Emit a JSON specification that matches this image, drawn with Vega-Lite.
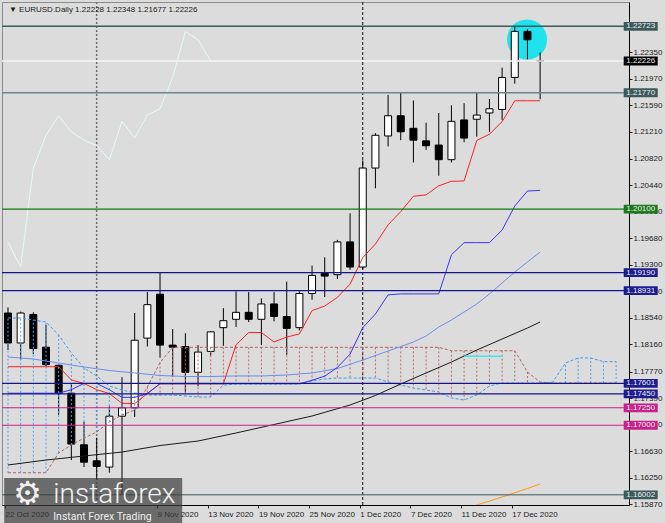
{
"$schema": "https://vega.github.io/schema/vega-lite/v6.json",
"width": 627, "height": 503,
"autosize": {"type": "none"},
"padding": {"left": 2, "top": 2, "right": 36, "bottom": 18},
"background": "#dcdcdc",
"config": {"view": {"stroke": "#8c8c8c", "strokeWidth": 1}, "font": "Liberation Sans", "axis": {"labelOverlap": false}, "axisY": {"labelOverlap": false}},
"datasets": {
"bars": [
{"i":0,"date":"2020-10-22","o":1.1861,"h":1.1869,"l":1.1808,"c":1.1818,"tenkan":1.1784,"kijun":1.1746},
{"i":1,"date":"2020-10-23","o":1.1818,"h":1.1863,"l":1.1794,"c":1.1861,"tenkan":1.1784,"kijun":1.1746},
{"i":2,"date":"2020-10-26","o":1.1859,"h":1.1862,"l":1.1802,"c":1.1810,"tenkan":1.1784,"kijun":1.1746},
{"i":3,"date":"2020-10-27","o":1.1812,"h":1.1844,"l":1.1784,"c":1.1787,"tenkan":1.1784,"kijun":1.1746},
{"i":4,"date":"2020-10-28","o":1.1786,"h":1.1787,"l":1.1715,"c":1.1746,"tenkan":1.1784,"kijun":1.1746},
{"i":5,"date":"2020-10-29","o":1.1746,"h":1.1760,"l":1.1650,"c":1.1673,"tenkan":1.1765,"kijun":1.1751},
{"i":6,"date":"2020-10-30","o":1.1672,"h":1.1705,"l":1.1640,"c":1.1647,"tenkan":1.1760,"kijun":1.1760},
{"i":7,"date":"2020-11-02","o":1.1649,"h":1.1682,"l":1.1622,"c":1.1641,"tenkan":1.1751,"kijun":1.1760},
{"i":8,"date":"2020-11-03","o":1.1640,"h":1.1727,"l":1.1632,"c":1.1713,"tenkan":1.17455,"kijun":1.1751},
{"i":9,"date":"2020-11-04","o":1.1713,"h":1.1769,"l":1.1600,"c":1.1725,"tenkan":1.17315,"kijun":1.1740},
{"i":10,"date":"2020-11-05","o":1.1725,"h":1.1861,"l":1.1712,"c":1.1822,"tenkan":1.1731,"kijun":1.1740},
{"i":11,"date":"2020-11-06","o":1.1825,"h":1.1891,"l":1.1813,"c":1.1873,"tenkan":1.17455,"kijun":1.17455},
{"i":12,"date":"2020-11-09","o":1.1888,"h":1.1919,"l":1.1797,"c":1.1815,"tenkan":1.17595,"kijun":1.17595},
{"i":13,"date":"2020-11-10","o":1.1815,"h":1.1838,"l":1.1770,"c":1.1812,"tenkan":1.17595,"kijun":1.17595},
{"i":14,"date":"2020-11-11","o":1.1813,"h":1.1832,"l":1.1747,"c":1.1776,"tenkan":1.17595,"kijun":1.17595},
{"i":15,"date":"2020-11-12","o":1.1776,"h":1.1815,"l":1.1756,"c":1.1805,"tenkan":1.17595,"kijun":1.17595},
{"i":16,"date":"2020-11-13","o":1.1806,"h":1.1835,"l":1.1800,"c":1.1834,"tenkan":1.17595,"kijun":1.17595},
{"i":17,"date":"2020-11-16","o":1.1840,"h":1.1868,"l":1.1814,"c":1.1850,"tenkan":1.17595,"kijun":1.17595},
{"i":18,"date":"2020-11-17","o":1.1852,"h":1.1892,"l":1.1841,"c":1.1862,"tenkan":1.18155,"kijun":1.17595},
{"i":19,"date":"2020-11-18","o":1.1862,"h":1.1891,"l":1.1848,"c":1.1852,"tenkan":1.1833,"kijun":1.17595},
{"i":20,"date":"2020-11-19","o":1.1852,"h":1.1882,"l":1.1815,"c":1.1874,"tenkan":1.1833,"kijun":1.17595},
{"i":21,"date":"2020-11-20","o":1.1874,"h":1.1891,"l":1.1849,"c":1.1856,"tenkan":1.18195,"kijun":1.17595},
{"i":22,"date":"2020-11-23","o":1.1856,"h":1.1906,"l":1.1801,"c":1.1839,"tenkan":1.18265,"kijun":1.17595},
{"i":23,"date":"2020-11-24","o":1.1840,"h":1.1892,"l":1.1836,"c":1.1889,"tenkan":1.1831,"kijun":1.17595},
{"i":24,"date":"2020-11-25","o":1.1889,"h":1.1929,"l":1.1880,"c":1.1915,"tenkan":1.18645,"kijun":1.17645},
{"i":25,"date":"2020-11-26","o":1.1918,"h":1.1941,"l":1.1884,"c":1.1914,"tenkan":1.1871,"kijun":1.17705},
{"i":26,"date":"2020-11-27","o":1.1916,"h":1.1966,"l":1.1910,"c":1.1963,"tenkan":1.18835,"kijun":1.1783},
{"i":27,"date":"2020-11-30","o":1.1963,"h":1.2004,"l":1.1923,"c":1.1927,"tenkan":1.19025,"kijun":1.1802},
{"i":28,"date":"2020-12-01","o":1.1927,"h":1.2080,"l":1.1924,"c":1.2069,"tenkan":1.19405,"kijun":1.1840},
{"i":29,"date":"2020-12-02","o":1.2069,"h":1.2119,"l":1.2040,"c":1.2116,"tenkan":1.1960,"kijun":1.18595},
{"i":30,"date":"2020-12-03","o":1.2115,"h":1.2174,"l":1.2100,"c":1.2144,"tenkan":1.19875,"kijun":1.1887},
{"i":31,"date":"2020-12-04","o":1.2144,"h":1.2177,"l":1.2109,"c":1.2121,"tenkan":1.20065,"kijun":1.18885},
{"i":32,"date":"2020-12-07","o":1.2126,"h":1.2166,"l":1.2077,"c":1.2109,"tenkan":1.20285,"kijun":1.18885},
{"i":33,"date":"2020-12-08","o":1.2108,"h":1.2134,"l":1.2095,"c":1.2101,"tenkan":1.20305,"kijun":1.18885},
{"i":34,"date":"2020-12-09","o":1.2102,"h":1.2148,"l":1.2058,"c":1.2081,"tenkan":1.20435,"kijun":1.18885},
{"i":35,"date":"2020-12-10","o":1.2081,"h":1.2159,"l":1.2077,"c":1.2136,"tenkan":1.2050,"kijun":1.19445},
{"i":36,"date":"2020-12-11","o":1.2138,"h":1.2162,"l":1.2106,"c":1.2112,"tenkan":1.20505,"kijun":1.1962},
{"i":37,"date":"2020-12-14","o":1.2139,"h":1.2177,"l":1.2114,"c":1.2145,"tenkan":1.21085,"kijun":1.1962},
{"i":38,"date":"2020-12-15","o":1.2148,"h":1.2168,"l":1.2121,"c":1.2154,"tenkan":1.21175,"kijun":1.1962},
{"i":39,"date":"2020-12-16","o":1.2153,"h":1.2213,"l":1.2138,"c":1.2199,"tenkan":1.21355,"kijun":1.1980},
{"i":40,"date":"2020-12-17","o":1.2199,"h":1.2273,"l":1.2190,"c":1.2265,"tenkan":1.21655,"kijun":1.20145},
{"i":41,"date":"2020-12-18","o":1.2265,"h":1.2268,"l":1.2225,"c":1.2253,"tenkan":1.21655,"kijun":1.2036},
{"i":42,"date":"2020-12-21","o":1.22228,"h":1.22348,"l":1.21677,"c":1.22226,"tenkan":1.21655,"kijun":1.2037}
],
"chikou": [
{"i":0,"v":1.1963},{"i":1,"v":1.1927},{"i":2,"v":1.2069},{"i":3,"v":1.2116},{"i":4,"v":1.2144},{"i":5,"v":1.2121},{"i":6,"v":1.2109},{"i":7,"v":1.2101},{"i":8,"v":1.2081},{"i":9,"v":1.2136},{"i":10,"v":1.2112},{"i":11,"v":1.2145},{"i":12,"v":1.2154},{"i":13,"v":1.2199},{"i":14,"v":1.2265},{"i":15,"v":1.2253},{"i":16,"v":1.22226}
],
"cloud": [
{"i":0,"a":1.16319,"b":1.18539},{"i":1,"a":1.16319,"b":1.18539},{"i":2,"a":1.16319,"b":1.1851},{"i":3,"a":1.16319,"b":1.18481},
{"i":4,"a":1.16602,"b":1.18295},{"i":5,"a":1.16717,"b":1.18036},{"i":6,"a":1.16817,"b":1.17821},{"i":7,"a":1.16903,"b":1.17706},
{"i":8,"a":1.17047,"b":1.17563},{"i":9,"a":1.17147,"b":1.17506},{"i":10,"a":1.17219,"b":1.17463},{"i":11,"a":1.1755,"b":1.17434},
{"i":12,"a":1.179,"b":1.17434},{"i":13,"a":1.18118,"b":1.17434},{"i":14,"a":1.18118,"b":1.1742},{"i":15,"a":1.18118,"b":1.17405},
{"i":16,"a":1.18118,"b":1.17405},{"i":17,"a":1.18118,"b":1.17577},{"i":18,"a":1.18118,"b":1.17592},{"i":19,"a":1.18118,"b":1.17592},
{"i":20,"a":1.18118,"b":1.17592},{"i":21,"a":1.18118,"b":1.17592},{"i":22,"a":1.18118,"b":1.17592},{"i":23,"a":1.18118,"b":1.17592},
{"i":24,"a":1.18118,"b":1.17635},{"i":25,"a":1.18118,"b":1.17663},{"i":26,"a":1.18118,"b":1.17678},{"i":27,"a":1.18118,"b":1.17678},
{"i":28,"a":1.18118,"b":1.17678},{"i":29,"a":1.18118,"b":1.17678},{"i":30,"a":1.18118,"b":1.1762},{"i":31,"a":1.18118,"b":1.17577},
{"i":32,"a":1.18118,"b":1.17534},{"i":33,"a":1.18118,"b":1.17506},{"i":34,"a":1.18118,"b":1.17477},{"i":35,"a":1.18069,"b":1.17391},
{"i":36,"a":1.18069,"b":1.17362},{"i":37,"a":1.18069,"b":1.17434},{"i":38,"a":1.18069,"b":1.17563},{"i":39,"a":1.18069,"b":1.17606},
{"i":40,"a":1.18069,"b":1.17606},{"i":41,"a":1.17764,"b":1.17606},{"i":42,"a":1.1762,"b":1.17606},{"i":43,"a":1.17606,"b":1.1762},
{"i":44,"a":1.17606,"b":1.17893},{"i":45,"a":1.17606,"b":1.17965},{"i":46,"a":1.17606,"b":1.17965},{"i":47,"a":1.17606,"b":1.17912},
{"i":48,"a":1.17606,"b":1.17912}
],
"ma": [
{"i":0,"series":"fast","v":1.17979},{"i":2,"series":"fast","v":1.1795},{"i":4,"series":"fast","v":1.17893},{"i":6,"series":"fast","v":1.17836},
{"i":8,"series":"fast","v":1.17785},{"i":10,"series":"fast","v":1.1775},{"i":12,"series":"fast","v":1.17714},{"i":14,"series":"fast","v":1.17699},
{"i":16,"series":"fast","v":1.17699},{"i":18,"series":"fast","v":1.17707},{"i":20,"series":"fast","v":1.17707},{"i":22,"series":"fast","v":1.17721},
{"i":24,"series":"fast","v":1.1775},{"i":26,"series":"fast","v":1.17814},{"i":28,"series":"fast","v":1.17936},{"i":30,"series":"fast","v":1.18065},
{"i":32,"series":"fast","v":1.18194},{"i":33,"series":"fast","v":1.1828},{"i":34,"series":"fast","v":1.18409},{"i":35,"series":"fast","v":1.1851},
{"i":36,"series":"fast","v":1.18625},{"i":37,"series":"fast","v":1.18739},{"i":38,"series":"fast","v":1.18883},{"i":39,"series":"fast","v":1.19041},
{"i":40,"series":"fast","v":1.19198},{"i":41,"series":"fast","v":1.19342},{"i":42,"series":"fast","v":1.19485},
{"i":0,"series":"slow","v":1.1643},{"i":3,"series":"slow","v":1.16501},{"i":6,"series":"slow","v":1.16559},{"i":9,"series":"slow","v":1.16616},
{"i":12,"series":"slow","v":1.16709},{"i":15,"series":"slow","v":1.16774},{"i":18,"series":"slow","v":1.16889},{"i":21,"series":"slow","v":1.17011},
{"i":24,"series":"slow","v":1.17133},{"i":27,"series":"slow","v":1.1729},{"i":29,"series":"slow","v":1.17427},{"i":31,"series":"slow","v":1.17592},
{"i":33,"series":"slow","v":1.1775},{"i":35,"series":"slow","v":1.17907},{"i":37,"series":"slow","v":1.18079},{"i":39,"series":"slow","v":1.18237},
{"i":41,"series":"slow","v":1.18395},{"i":42,"series":"slow","v":1.18481},
{"i":36,"series":"long","v":1.15799},{"i":37,"series":"long","v":1.15856},{"i":38,"series":"long","v":1.15913},{"i":39,"series":"long","v":1.15971},
{"i":40,"series":"long","v":1.16032},{"i":41,"series":"long","v":1.16093},{"i":42,"series":"long","v":1.16157}
],
"levels": [
{"price":1.22723,"kind":"high"},{"price":1.22226,"kind":"current"},{"price":1.2177,"kind":"pivot"},{"price":1.201,"kind":"round"},
{"price":1.1919,"kind":"range"},{"price":1.18931,"kind":"range"},{"price":1.17601,"kind":"range"},{"price":1.1745,"kind":"range"},
{"price":1.1725,"kind":"support"},{"price":1.17,"kind":"support"},{"price":1.16002,"kind":"low"}
],
"separators": [{"i":7},{"i":28}],
"marker": [{"i":36,"v":1.1799},{"i":39,"v":1.1799}]
},
"layer": [
{"data": {"name": "separators"}, "mark": {"type": "rule"},
 "encoding": {
  "x": {"field": "i", "type": "quantitative", "scale": {"domain": [-0.078, 48.621], "nice": false, "zero": false}},
  "stroke": {"condition": {"test": "datum.i < 10", "value": "#6e6e6e"}, "value": "#111111"},
  "strokeDash": {"condition": {"test": "datum.i < 10", "value": [2, 2]}, "value": [3, 2]},
  "strokeWidth": {"condition": {"test": "datum.i < 10", "value": 1.5}, "value": 1}}},
{"data": {"values": [{}]}, "mark": {"type": "point", "shape": "circle", "filled": true, "opacity": 1, "size": 1600, "color": "#1fe3ec", "strokeWidth": 0},
 "encoding": {
  "x": {"datum": 40.97, "type": "quantitative", "scale": {"domain": [-0.078, 48.621], "nice": false, "zero": false}},
  "y": {"datum": 1.22534, "type": "quantitative", "scale": {"domain": [1.15856, 1.23072], "nice": false, "zero": false},
   "axis": {"orient": "right", "format": ".5f", "values": [1.2235,1.2197,1.2159,1.2121,1.2082,1.2044,1.2006,1.1968,1.193,1.1892,1.1854,1.1816,1.1777,1.1739,1.1701,1.1663,1.1625,1.1587], "title": null, "grid": false, "domainColor": "#000000", "tickColor": "#222222", "tickSize": 3, "labelPadding": 1, "labelFont": "Liberation Sans", "labelFontSize": 8, "labelColor": "#1a1a1a", "labelAlign": "left", "labelBaseline": "middle", "labelFlush": false, "labelOverlap": false, "labelBound": false}}}},
{"data": {"name": "bars"}, "mark": {"type": "rule", "color": "#000000", "strokeWidth": 1, "clip": true},
 "encoding": {
  "x": {"field": "i", "type": "quantitative", "scale": {"domain": [-0.078, 48.621], "nice": false, "zero": false},
   "axis": {"values": [0, 12, 16, 20, 24, 28, 32, 36, 40],
    "labelExpr": "['22 Oct 2020','28 Oct 2020','3 Nov 2020','9 Nov 2020','13 Nov 2020','19 Nov 2020','25 Nov 2020','1 Dec 2020','7 Dec 2020','11 Dec 2020','17 Dec 2020'][datum.value/4]",
    "title": null, "grid": false, "domainColor": "#000000", "tickColor": "#222222", "tickSize": 3, "tickOffset": -3,
    "labelAlign": "left", "labelBaseline": "top", "labelPadding": 2, "labelFont": "Liberation Sans", "labelFontSize": 8,
    "labelColor": "#1a1a1a", "labelFlush": false, "labelOverlap": false, "labelBound": false}},
  "y": {"field": "l", "type": "quantitative", "scale": {"domain": [1.15856, 1.23072], "nice": false, "zero": false},
   "axis": {"orient": "right", "format": ".5f", "values": [1.2235,1.2197,1.2159,1.2121,1.2082,1.2044,1.2006,1.1968,1.193,1.1892,1.1854,1.1816,1.1777,1.1739,1.1701,1.1663,1.1625,1.1587], "title": null, "grid": false, "domainColor": "#000000", "tickColor": "#222222", "tickSize": 3, "labelPadding": 1, "labelFont": "Liberation Sans", "labelFontSize": 8, "labelColor": "#1a1a1a", "labelAlign": "left", "labelBaseline": "middle", "labelFlush": false, "labelOverlap": false, "labelBound": false}},
  "y2": {"field": "h"}}},
{"data": {"name": "bars"}, "mark": {"type": "bar", "width": 7, "stroke": "#000000", "strokeWidth": 1, "clip": true},
 "encoding": {
  "x": {"field": "i", "type": "quantitative", "scale": {"domain": [-0.078, 48.621], "nice": false, "zero": false}},
  "y": {"field": "o", "type": "quantitative", "scale": {"domain": [1.15856, 1.23072], "nice": false, "zero": false},
   "axis": {"orient": "right", "format": ".5f", "values": [1.2235,1.2197,1.2159,1.2121,1.2082,1.2044,1.2006,1.1968,1.193,1.1892,1.1854,1.1816,1.1777,1.1739,1.1701,1.1663,1.1625,1.1587], "title": null, "grid": false, "domainColor": "#000000", "tickColor": "#222222", "tickSize": 3, "labelPadding": 1, "labelFont": "Liberation Sans", "labelFontSize": 8, "labelColor": "#1a1a1a", "labelAlign": "left", "labelBaseline": "middle", "labelFlush": false, "labelOverlap": false, "labelBound": false}},
  "y2": {"field": "c"},
  "fill": {"condition": {"test": "datum.c >= datum.o", "value": "#ffffff"}, "value": "#000000"}}},
{"data": {"name": "cloud"}, "mark": {"type": "rule", "strokeDash": [2, 2], "strokeWidth": 1, "clip": true},
 "encoding": {
  "x": {"field": "i", "type": "quantitative", "scale": {"domain": [-0.078, 48.621], "nice": false, "zero": false}},
  "y": {"field": "a", "type": "quantitative", "scale": {"domain": [1.15856, 1.23072], "nice": false, "zero": false},
   "axis": {"orient": "right", "format": ".5f", "values": [1.2235,1.2197,1.2159,1.2121,1.2082,1.2044,1.2006,1.1968,1.193,1.1892,1.1854,1.1816,1.1777,1.1739,1.1701,1.1663,1.1625,1.1587], "title": null, "grid": false, "domainColor": "#000000", "tickColor": "#222222", "tickSize": 3, "labelPadding": 1, "labelFont": "Liberation Sans", "labelFontSize": 8, "labelColor": "#1a1a1a", "labelAlign": "left", "labelBaseline": "middle", "labelFlush": false, "labelOverlap": false, "labelBound": false}},
  "y2": {"field": "b"},
  "stroke": {"condition": {"test": "datum.a > datum.b", "value": "#b86a6a"}, "value": "#4aa3f5"}}},
{"data": {"name": "cloud"}, "mark": {"type": "line", "stroke": "#b46262", "strokeDash": [3, 2], "strokeWidth": 1, "clip": true},
 "encoding": {
  "x": {"field": "i", "type": "quantitative", "scale": {"domain": [-0.078, 48.621], "nice": false, "zero": false}},
  "y": {"field": "a", "type": "quantitative", "scale": {"domain": [1.15856, 1.23072], "nice": false, "zero": false},
   "axis": {"orient": "right", "format": ".5f", "values": [1.2235,1.2197,1.2159,1.2121,1.2082,1.2044,1.2006,1.1968,1.193,1.1892,1.1854,1.1816,1.1777,1.1739,1.1701,1.1663,1.1625,1.1587], "title": null, "grid": false, "domainColor": "#000000", "tickColor": "#222222", "tickSize": 3, "labelPadding": 1, "labelFont": "Liberation Sans", "labelFontSize": 8, "labelColor": "#1a1a1a", "labelAlign": "left", "labelBaseline": "middle", "labelFlush": false, "labelOverlap": false, "labelBound": false}}}},
{"data": {"name": "cloud"}, "mark": {"type": "line", "stroke": "#3d9cf2", "strokeDash": [3, 2], "strokeWidth": 1, "clip": true},
 "encoding": {
  "x": {"field": "i", "type": "quantitative", "scale": {"domain": [-0.078, 48.621], "nice": false, "zero": false}},
  "y": {"field": "b", "type": "quantitative", "scale": {"domain": [1.15856, 1.23072], "nice": false, "zero": false},
   "axis": {"orient": "right", "format": ".5f", "values": [1.2235,1.2197,1.2159,1.2121,1.2082,1.2044,1.2006,1.1968,1.193,1.1892,1.1854,1.1816,1.1777,1.1739,1.1701,1.1663,1.1625,1.1587], "title": null, "grid": false, "domainColor": "#000000", "tickColor": "#222222", "tickSize": 3, "labelPadding": 1, "labelFont": "Liberation Sans", "labelFontSize": 8, "labelColor": "#1a1a1a", "labelAlign": "left", "labelBaseline": "middle", "labelFlush": false, "labelOverlap": false, "labelBound": false}}}},
{"data": {"name": "ma"}, "mark": {"type": "line", "strokeWidth": 1, "clip": true},
 "encoding": {
  "x": {"field": "i", "type": "quantitative", "scale": {"domain": [-0.078, 48.621], "nice": false, "zero": false}},
  "y": {"field": "v", "type": "quantitative", "scale": {"domain": [1.15856, 1.23072], "nice": false, "zero": false},
   "axis": {"orient": "right", "format": ".5f", "values": [1.2235,1.2197,1.2159,1.2121,1.2082,1.2044,1.2006,1.1968,1.193,1.1892,1.1854,1.1816,1.1777,1.1739,1.1701,1.1663,1.1625,1.1587], "title": null, "grid": false, "domainColor": "#000000", "tickColor": "#222222", "tickSize": 3, "labelPadding": 1, "labelFont": "Liberation Sans", "labelFontSize": 8, "labelColor": "#1a1a1a", "labelAlign": "left", "labelBaseline": "middle", "labelFlush": false, "labelOverlap": false, "labelBound": false}},
  "color": {"field": "series", "type": "nominal", "scale": {"domain": ["fast", "slow", "long"], "range": ["#6b8fef", "#1a1a1a", "#ff9a1a"]}, "legend": null}}},
{"data": {"name": "chikou"}, "mark": {"type": "line", "stroke": "#e2fbfb", "strokeWidth": 1, "clip": true},
 "encoding": {
  "x": {"field": "i", "type": "quantitative", "scale": {"domain": [-0.078, 48.621], "nice": false, "zero": false}},
  "y": {"field": "v", "type": "quantitative", "scale": {"domain": [1.15856, 1.23072], "nice": false, "zero": false},
   "axis": {"orient": "right", "format": ".5f", "values": [1.2235,1.2197,1.2159,1.2121,1.2082,1.2044,1.2006,1.1968,1.193,1.1892,1.1854,1.1816,1.1777,1.1739,1.1701,1.1663,1.1625,1.1587], "title": null, "grid": false, "domainColor": "#000000", "tickColor": "#222222", "tickSize": 3, "labelPadding": 1, "labelFont": "Liberation Sans", "labelFontSize": 8, "labelColor": "#1a1a1a", "labelAlign": "left", "labelBaseline": "middle", "labelFlush": false, "labelOverlap": false, "labelBound": false}}}},
{"data": {"name": "bars"}, "mark": {"type": "line", "stroke": "#ff2020", "strokeWidth": 1, "clip": true},
 "encoding": {
  "x": {"field": "i", "type": "quantitative", "scale": {"domain": [-0.078, 48.621], "nice": false, "zero": false}},
  "y": {"field": "tenkan", "type": "quantitative", "scale": {"domain": [1.15856, 1.23072], "nice": false, "zero": false},
   "axis": {"orient": "right", "format": ".5f", "values": [1.2235,1.2197,1.2159,1.2121,1.2082,1.2044,1.2006,1.1968,1.193,1.1892,1.1854,1.1816,1.1777,1.1739,1.1701,1.1663,1.1625,1.1587], "title": null, "grid": false, "domainColor": "#000000", "tickColor": "#222222", "tickSize": 3, "labelPadding": 1, "labelFont": "Liberation Sans", "labelFontSize": 8, "labelColor": "#1a1a1a", "labelAlign": "left", "labelBaseline": "middle", "labelFlush": false, "labelOverlap": false, "labelBound": false}}}},
{"data": {"name": "bars"}, "mark": {"type": "line", "stroke": "#3535ff", "strokeWidth": 1, "clip": true},
 "encoding": {
  "x": {"field": "i", "type": "quantitative", "scale": {"domain": [-0.078, 48.621], "nice": false, "zero": false}},
  "y": {"field": "kijun", "type": "quantitative", "scale": {"domain": [1.15856, 1.23072], "nice": false, "zero": false},
   "axis": {"orient": "right", "format": ".5f", "values": [1.2235,1.2197,1.2159,1.2121,1.2082,1.2044,1.2006,1.1968,1.193,1.1892,1.1854,1.1816,1.1777,1.1739,1.1701,1.1663,1.1625,1.1587], "title": null, "grid": false, "domainColor": "#000000", "tickColor": "#222222", "tickSize": 3, "labelPadding": 1, "labelFont": "Liberation Sans", "labelFontSize": 8, "labelColor": "#1a1a1a", "labelAlign": "left", "labelBaseline": "middle", "labelFlush": false, "labelOverlap": false, "labelBound": false}}}},
{"data": {"name": "marker"}, "mark": {"type": "line", "stroke": "#3ee6f0", "strokeWidth": 1.5, "clip": true},
 "encoding": {
  "x": {"field": "i", "type": "quantitative", "scale": {"domain": [-0.078, 48.621], "nice": false, "zero": false}},
  "y": {"field": "v", "type": "quantitative", "scale": {"domain": [1.15856, 1.23072], "nice": false, "zero": false},
   "axis": {"orient": "right", "format": ".5f", "values": [1.2235,1.2197,1.2159,1.2121,1.2082,1.2044,1.2006,1.1968,1.193,1.1892,1.1854,1.1816,1.1777,1.1739,1.1701,1.1663,1.1625,1.1587], "title": null, "grid": false, "domainColor": "#000000", "tickColor": "#222222", "tickSize": 3, "labelPadding": 1, "labelFont": "Liberation Sans", "labelFontSize": 8, "labelColor": "#1a1a1a", "labelAlign": "left", "labelBaseline": "middle", "labelFlush": false, "labelOverlap": false, "labelBound": false}}}},
{"data": {"name": "levels"}, "mark": {"type": "rule"},
 "encoding": {
  "y": {"field": "price", "type": "quantitative", "scale": {"domain": [1.15856, 1.23072], "nice": false, "zero": false},
   "axis": {"orient": "right", "format": ".5f", "values": [1.2235,1.2197,1.2159,1.2121,1.2082,1.2044,1.2006,1.1968,1.193,1.1892,1.1854,1.1816,1.1777,1.1739,1.1701,1.1663,1.1625,1.1587], "title": null, "grid": false, "domainColor": "#000000", "tickColor": "#222222", "tickSize": 3, "labelPadding": 1, "labelFont": "Liberation Sans", "labelFontSize": 8, "labelColor": "#1a1a1a", "labelAlign": "left", "labelBaseline": "middle", "labelFlush": false, "labelOverlap": false, "labelBound": false}},
  "stroke": {"field": "kind", "type": "nominal", "scale": {"domain": ["high","current","pivot","round","range","support","low"], "range": ["#3b5b5b","#f4f4f4","#6a8585","#117a11","#14148c","#c8208a","#3b5b5b"]}, "legend": null},
  "strokeWidth": {"field": "kind", "type": "nominal", "scale": {"domain": ["high","current","pivot","round","range","support","low"], "range": [1.5,1,1.5,1.5,2,2,1.5]}, "legend": null}}},
{"data": {"name": "levels"}, "mark": {"type": "point", "shape": "M-1,-0.26H1V0.26H-1Z", "size": 1156, "filled": true, "opacity": 1, "strokeWidth": 0},
 "encoding": {
  "x": {"datum": 49.94, "type": "quantitative", "scale": {"domain": [-0.078, 48.621], "nice": false, "zero": false}},
  "y": {"field": "price", "type": "quantitative", "scale": {"domain": [1.15856, 1.23072], "nice": false, "zero": false},
   "axis": {"orient": "right", "format": ".5f", "values": [1.2235,1.2197,1.2159,1.2121,1.2082,1.2044,1.2006,1.1968,1.193,1.1892,1.1854,1.1816,1.1777,1.1739,1.1701,1.1663,1.1625,1.1587], "title": null, "grid": false, "domainColor": "#000000", "tickColor": "#222222", "tickSize": 3, "labelPadding": 1, "labelFont": "Liberation Sans", "labelFontSize": 8, "labelColor": "#1a1a1a", "labelAlign": "left", "labelBaseline": "middle", "labelFlush": false, "labelOverlap": false, "labelBound": false}},
  "fill": {"field": "kind", "type": "nominal", "scale": {"domain": ["high","current","pivot","round","range","support","low"], "range": ["#3b5b5b","#000000","#3b5b5b","#1c7a1c","#1c1c8f","#c8208a","#3b5b5b"]}, "legend": null}}},
{"data": {"name": "levels"}, "mark": {"type": "text", "font": "Liberation Sans", "fontSize": 8, "align": "center", "baseline": "middle", "color": "#eeeeee"},
 "encoding": {
  "x": {"datum": 49.94, "type": "quantitative", "scale": {"domain": [-0.078, 48.621], "nice": false, "zero": false}},
  "y": {"field": "price", "type": "quantitative", "scale": {"domain": [1.15856, 1.23072], "nice": false, "zero": false},
   "axis": {"orient": "right", "format": ".5f", "values": [1.2235,1.2197,1.2159,1.2121,1.2082,1.2044,1.2006,1.1968,1.193,1.1892,1.1854,1.1816,1.1777,1.1739,1.1701,1.1663,1.1625,1.1587], "title": null, "grid": false, "domainColor": "#000000", "tickColor": "#222222", "tickSize": 3, "labelPadding": 1, "labelFont": "Liberation Sans", "labelFontSize": 8, "labelColor": "#1a1a1a", "labelAlign": "left", "labelBaseline": "middle", "labelFlush": false, "labelOverlap": false, "labelBound": false}},
  "text": {"field": "price", "type": "quantitative", "format": ".5f"}}},
{"data": {"values": [{}]}, "mark": {"type": "text", "font": "Liberation Sans", "fontSize": 8, "align": "left", "baseline": "middle", "color": "#1a1a1a",
  "text": "▼ EURUSD.Daily 1.22228 1.22348 1.21677 1.22226"},
 "encoding": {
  "x": {"datum": 0.078, "type": "quantitative", "scale": {"domain": [-0.078, 48.621], "nice": false, "zero": false}},
  "y": {"datum": 1.22957, "type": "quantitative", "scale": {"domain": [1.15856, 1.23072], "nice": false, "zero": false},
   "axis": {"orient": "right", "format": ".5f", "values": [1.2235,1.2197,1.2159,1.2121,1.2082,1.2044,1.2006,1.1968,1.193,1.1892,1.1854,1.1816,1.1777,1.1739,1.1701,1.1663,1.1625,1.1587], "title": null, "grid": false, "domainColor": "#000000", "tickColor": "#222222", "tickSize": 3, "labelPadding": 1, "labelFont": "Liberation Sans", "labelFontSize": 8, "labelColor": "#1a1a1a", "labelAlign": "left", "labelBaseline": "middle", "labelFlush": false, "labelOverlap": false, "labelBound": false}}}},
{"data": {"values": [{}]}, "mark": {"type": "rect", "fill": "#3a3a3a", "opacity": 0.7},
 "encoding": {
  "x": {"datum": -0.3, "type": "quantitative", "scale": {"domain": [-0.078, 48.621], "nice": false, "zero": false}}, "x2": {"datum": 13.75},
  "y": {"datum": 1.16243, "type": "quantitative", "scale": {"domain": [1.15856, 1.23072], "nice": false, "zero": false},
   "axis": {"orient": "right", "format": ".5f", "values": [1.2235,1.2197,1.2159,1.2121,1.2082,1.2044,1.2006,1.1968,1.193,1.1892,1.1854,1.1816,1.1777,1.1739,1.1701,1.1663,1.1625,1.1587], "title": null, "grid": false, "domainColor": "#000000", "tickColor": "#222222", "tickSize": 3, "labelPadding": 1, "labelFont": "Liberation Sans", "labelFontSize": 8, "labelColor": "#1a1a1a", "labelAlign": "left", "labelBaseline": "middle", "labelFlush": false, "labelOverlap": false, "labelBound": false}},
  "y2": {"datum": 1.1555}}},
{"data": {"values": [{}]}, "mark": {"type": "text", "font": "DejaVu Sans", "fontSize": 32, "align": "center", "baseline": "middle", "color": "#f0f0f0", "text": "⚙"},
 "encoding": {
  "x": {"datum": 1.553, "type": "quantitative", "scale": {"domain": [-0.078, 48.621], "nice": false, "zero": false}},
  "y": {"datum": 1.16014, "type": "quantitative", "scale": {"domain": [1.15856, 1.23072], "nice": false, "zero": false},
   "axis": {"orient": "right", "format": ".5f", "values": [1.2235,1.2197,1.2159,1.2121,1.2082,1.2044,1.2006,1.1968,1.193,1.1892,1.1854,1.1816,1.1777,1.1739,1.1701,1.1663,1.1625,1.1587], "title": null, "grid": false, "domainColor": "#000000", "tickColor": "#222222", "tickSize": 3, "labelPadding": 1, "labelFont": "Liberation Sans", "labelFontSize": 8, "labelColor": "#1a1a1a", "labelAlign": "left", "labelBaseline": "middle", "labelFlush": false, "labelOverlap": false, "labelBound": false}}}},
{"data": {"values": [{}]}, "mark": {"type": "text", "font": "Roboto", "fontWeight": 300, "fontSize": 28, "align": "left", "baseline": "alphabetic", "color": "#f2f2f2", "text": "instaforex"},
 "encoding": {
  "x": {"datum": 3.573, "type": "quantitative", "scale": {"domain": [-0.078, 48.621], "nice": false, "zero": false}},
  "y": {"datum": 1.1588, "type": "quantitative", "scale": {"domain": [1.15856, 1.23072], "nice": false, "zero": false},
   "axis": {"orient": "right", "format": ".5f", "values": [1.2235,1.2197,1.2159,1.2121,1.2082,1.2044,1.2006,1.1968,1.193,1.1892,1.1854,1.1816,1.1777,1.1739,1.1701,1.1663,1.1625,1.1587], "title": null, "grid": false, "domainColor": "#000000", "tickColor": "#222222", "tickSize": 3, "labelPadding": 1, "labelFont": "Liberation Sans", "labelFontSize": 8, "labelColor": "#1a1a1a", "labelAlign": "left", "labelBaseline": "middle", "labelFlush": false, "labelOverlap": false, "labelBound": false}}}},
{"data": {"values": [{}]}, "mark": {"type": "text", "font": "Roboto", "fontSize": 10.5, "align": "left", "baseline": "alphabetic", "color": "#eeeeee", "text": "Instant Forex Trading"},
 "encoding": {
  "x": {"datum": 3.573, "type": "quantitative", "scale": {"domain": [-0.078, 48.621], "nice": false, "zero": false}},
  "y": {"datum": 1.15641, "type": "quantitative", "scale": {"domain": [1.15856, 1.23072], "nice": false, "zero": false},
   "axis": {"orient": "right", "format": ".5f", "values": [1.2235,1.2197,1.2159,1.2121,1.2082,1.2044,1.2006,1.1968,1.193,1.1892,1.1854,1.1816,1.1777,1.1739,1.1701,1.1663,1.1625,1.1587], "title": null, "grid": false, "domainColor": "#000000", "tickColor": "#222222", "tickSize": 3, "labelPadding": 1, "labelFont": "Liberation Sans", "labelFontSize": 8, "labelColor": "#1a1a1a", "labelAlign": "left", "labelBaseline": "middle", "labelFlush": false, "labelOverlap": false, "labelBound": false}}}}
]
}
